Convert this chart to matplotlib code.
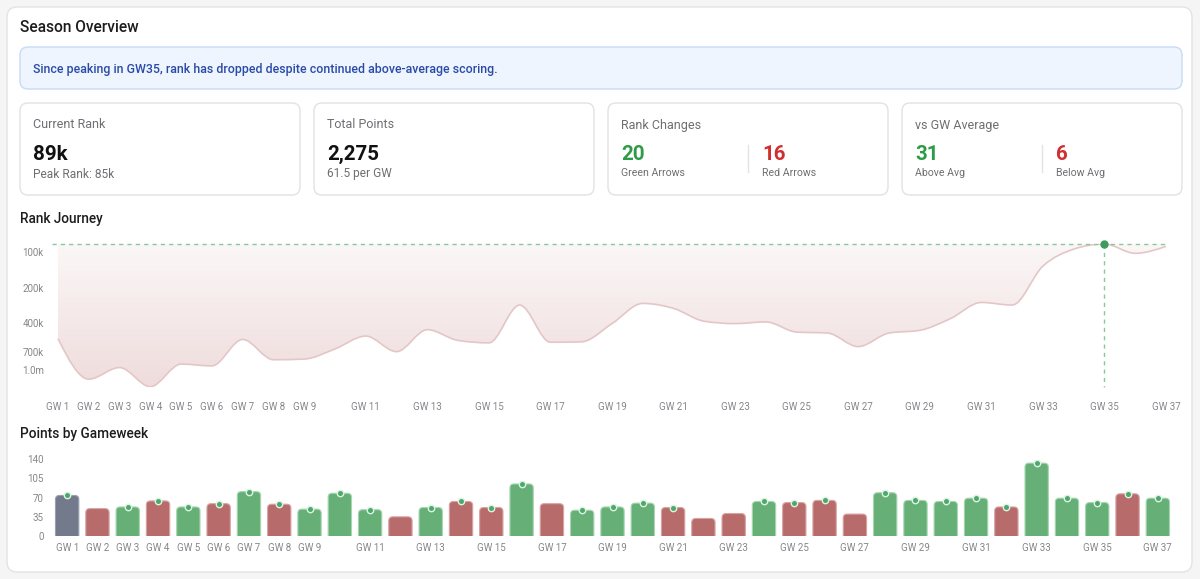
import numpy as np
import matplotlib.pyplot as plt
from matplotlib.path import Path
from matplotlib.patches import FancyBboxPatch, PathPatch
from matplotlib.colors import LinearSegmentedColormap
from matplotlib.ticker import FixedLocator, NullLocator

plt.rcParams['font.family'] = ['Roboto', 'DejaVu Sans']

# data
gameweeks = list(range(1, 38))
overall_rank = [543000, 1200000, 955000, 1390000, 893000, 925000, 551000, 820000, 809000,
                664000, 516000, 700000, 455000, 562000, 589000, 281000, 582000, 578000,
                404000, 272000, 300000, 386000, 404000, 391000, 477000, 486000, 634000,
                486000, 461000, 366000, 267000, 281000, 131000, 94000, 85000, 102000, 89000]
gw_points = [74, 50, 53, 64, 53, 59, 81, 58, 49, 78, 48, 35, 52, 63, 52, 95, 59, 47,
             53, 60, 52, 32, 41, 63, 61, 65, 40, 79, 65, 63, 69, 53, 133, 69, 61, 77, 69]
below_avg_gws = [2, 12, 17, 22, 23, 27]
shown_ticks = list(range(1, 10)) + list(range(11, 38, 2))
rank_ticks = [100000, 200000, 400000, 700000, 1000000]
rank_tick_labels = ["100k", "200k", "400k", "700k", "1.0m"]
point_ticks = [0, 35, 70, 105, 140]

GREEN = "#66b078"
RED = "#b76b6a"
GREY = "#737a8c"
TXT = "#1d1d1f"
MUTED = "#6e6e73"
TICK = "#86868b"

W, H = 1200, 579
fig = plt.figure(figsize=(12, 5.79), dpi=100)
fig.patch.set_facecolor("#f5f5f5")
bg = fig.add_axes([0, 0, 1, 1])
bg.set_xlim(0, W)
bg.set_ylim(H, 0)
bg.axis("off")


def box(x0, y0, x1, y1, fc, ec, r=8, lw=1.0):
    bg.add_patch(FancyBboxPatch((x0, y0), x1 - x0, y1 - y0,
                                boxstyle=f"round,pad=0,rounding_size={r}",
                                fc=fc, ec=ec, lw=lw))


def px_axes(l, t, r, b):
    return fig.add_axes([l / W, 1 - b / H, (r - l) / W, (b - t) / H])


# layout boxes
box(7, 7, 1192, 572, "white", "#e3e3e6", r=10)
bg.text(20, 27, "Season Overview", fontsize=11.2, weight="medium", color=TXT, va="center")
box(20, 47, 1182, 89, "#eef5fe", "#c8dbf5", r=8)
bg.text(33, 69, "Since peaking in GW35, rank has dropped despite continued above-average scoring.",
        fontsize=8.9, color="#2a4aa8", va="center", weight="medium")

card_x = [20, 314, 608, 902]
for cx in card_x:
    box(cx, 103, cx + 280, 195, "white", "#e2e2e5", r=8)

bg.text(33, 125, "Current Rank", fontsize=9, color=MUTED, va="center")
bg.text(33, 154, "89k", fontsize=14.8, weight="bold", color="#111", va="center")
bg.text(33, 174, "Peak Rank: 85k", fontsize=8.6, color=MUTED, va="center")

bg.text(327, 125, "Total Points", fontsize=9, color=MUTED, va="center")
bg.text(327, 154, "2,275", fontsize=14.8, weight="bold", color="#111", va="center")
bg.text(327, 174, "61.5 per GW", fontsize=8.6, color=MUTED, va="center")

split_cards = [
    (608, "Rank Changes", ("20", "Green Arrows"), ("16", "Red Arrows")),
    (902, "vs GW Average", ("31", "Above Avg"), ("6", "Below Avg")),
]
for cx, title, good, bad in split_cards:
    bg.text(cx + 13, 125, title, fontsize=9, color=MUTED, va="center")
    bg.text(cx + 13, 154, good[0], fontsize=14.8, weight="bold", color="#2e9b47", va="center")
    bg.text(cx + 13, 173, good[1], fontsize=7.6, color=MUTED, va="center")
    bg.plot([cx + 140, cx + 140], [145, 172], color="#e3e3e6", lw=1)
    bg.text(cx + 154, 154, bad[0], fontsize=14.8, weight="bold", color="#d12f2f", va="center")
    bg.text(cx + 154, 173, bad[1], fontsize=7.6, color=MUTED, va="center")

bg.text(20, 219, "Rank Journey", fontsize=9.8, weight="medium", color=TXT, va="center")
bg.text(20, 434, "Points by Gameweek", fontsize=9.8, weight="medium", color=TXT, va="center")


# ---- rank journey (smooth monotone curve, log scale, inverted) ----
def monotone_path(xs, ys):
    xs = np.asarray(xs, float)
    ys = np.asarray(ys, float)
    n = len(xs)
    h = np.diff(xs)
    s = np.diff(ys) / h
    t = np.zeros(n)
    for i in range(1, n - 1):
        s0, s1 = s[i - 1], s[i]
        h0, h1 = h[i - 1], h[i]
        p = (s0 * h1 + s1 * h0) / (h0 + h1)
        t[i] = (np.sign(s0 + 1e-12) + np.sign(s1 + 1e-12)) * min(abs(s0), abs(s1), 0.5 * abs(p))
    t[0] = (3 * s[0] - t[1]) / 2
    t[-1] = (3 * s[-1] - t[-2]) / 2
    verts = [(xs[0], ys[0])]
    codes = [Path.MOVETO]
    for i in range(n - 1):
        dx = (xs[i + 1] - xs[i]) / 3
        verts += [(xs[i] + dx, ys[i] + dx * t[i]),
                  (xs[i + 1] - dx, ys[i + 1] - dx * t[i + 1]),
                  (xs[i + 1], ys[i + 1])]
        codes += [Path.CURVE4] * 3
    return verts, codes


ax = px_axes(52, 244, 1173, 386.7)
ax.set_facecolor("none")
ax.set_yscale("log")
peak = min(overall_rank)
ax.set_xlim(1 - 6 / 30.78, 37 + 7 / 30.78)
ax.set_ylim(max(overall_rank), peak)

lv, lc = monotone_path(gameweeks, np.log10(overall_rank))
curve = [(x, 10 ** y) for x, y in lv]
line_path = Path(curve, lc)
fill_path = Path(curve + [(gameweeks[-1], peak), (gameweeks[0], peak), curve[0]],
                 lc + [Path.LINETO, Path.LINETO, Path.CLOSEPOLY])
clip = PathPatch(fill_path, fc="none", ec="none", transform=ax.transData)
ax.add_patch(clip)
grad = LinearSegmentedColormap.from_list("g", ["#efdcdc", "#fbf7f7"])
img = ax.imshow(np.linspace(0, 1, 256).reshape(-1, 1), cmap=grad, aspect="auto",
                extent=[0, 1, 0, 1], transform=ax.transAxes, origin="lower", zorder=1)
img.set_clip_path(clip)
ax.add_patch(PathPatch(line_path, fc="none", ec="#e4c6c6", lw=1.2, zorder=2))

peak_gw = gameweeks[overall_rank.index(peak)]
ax.plot([ax.get_xlim()[0], gameweeks[-1]], [peak, peak], color="#86c99a", lw=1,
        dashes=(3, 3), clip_on=False, zorder=3)
ax.plot([peak_gw, peak_gw], [peak, max(overall_rank)], color="#86c99a", lw=1,
        dashes=(3, 3), clip_on=False, zorder=3)
ax.plot([peak_gw], [peak], "o", color="#3f9b5b", ms=5, clip_on=False, zorder=4)

ax.yaxis.set_major_locator(FixedLocator(rank_ticks))
ax.yaxis.set_minor_locator(NullLocator())
ax.set_yticklabels(rank_tick_labels)
ax.set_xticks(shown_ticks)
ax.set_xticklabels([f"GW {g}" for g in shown_ticks])
ax.tick_params(axis="both", length=0, labelsize=7, labelcolor=TICK)
ax.tick_params(axis="x", pad=11)
ax.tick_params(axis="y", pad=6)
for sp in ax.spines.values():
    sp.set_visible(False)

# ---- points by gameweek ----
bx = px_axes(52, 459.3, 1173, 536)
bx.set_facecolor("none")
bx.set_xlim(0.5, 37.5)
bx.set_ylim(0, 140)
bar_w = 0.77
x_per_px = 37 / (1173 - 52)
y_per_px = 140 / (536 - 459.3)
r = 4 * x_per_px
for i, (g, v) in enumerate(zip(gameweeks, gw_points)):
    if i == 0:
        c, ec = GREY, "#9aa0ad"
    elif overall_rank[i] < overall_rank[i - 1]:
        c, ec = GREEN, "#a5d6b0"
    else:
        c, ec = RED, "#d9a3a3"
    bx.add_patch(FancyBboxPatch((g - bar_w / 2, -10), bar_w, v + 10,
                                boxstyle=f"round,pad=0,rounding_size={r}",
                                mutation_aspect=y_per_px / x_per_px,
                                fc=c, ec=ec, lw=0.8, zorder=2))
above = [g for g in gameweeks if g not in below_avg_gws]
bx.plot(above, [gw_points[g - 1] for g in above], "o", ms=4.6, color="#4ea86c",
        mec="#dff2e4", mew=1.0, zorder=3, clip_on=False)
bx.set_yticks(point_ticks)
bx.set_xticks(shown_ticks)
bx.set_xticklabels([f"GW {g}" for g in shown_ticks])
bx.tick_params(axis="both", length=0, labelsize=7, labelcolor=TICK)
bx.tick_params(axis="x", pad=5)
bx.tick_params(axis="y", pad=6)
for sp in bx.spines.values():
    sp.set_visible(False)

fig.savefig("out.png", dpi=100, facecolor=fig.get_facecolor())
